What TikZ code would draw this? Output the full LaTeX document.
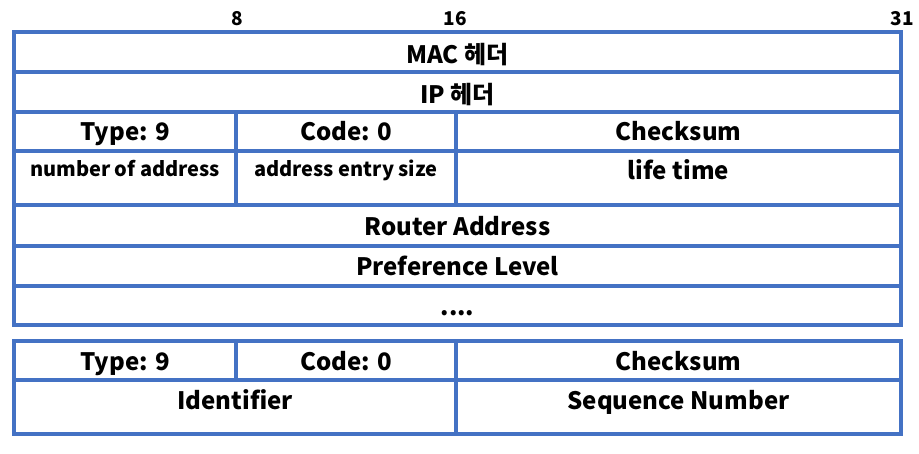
\documentclass[tikz,border=0pt]{standalone}
\usepackage{fontspec}
\setmainfont{Noto Sans CJK KR}
\usepackage{tikz}

\definecolor{cellblue}{HTML}{4472C4}

\tikzset{
	field/.style={anchor=base, text=black, font=\bfseries\fontsize{24}{28}\selectfont},
	smallfield/.style={anchor=base, text=black, font=\bfseries\fontsize{20}{23}\selectfont},
	bitnum/.style={anchor=base, text=black, font=\bfseries\fontsize{19}{22}\selectfont},
	cellline/.style={cellblue, line width=3.5pt}
}

\begin{document}
\begin{tikzpicture}[x=1pt, y=-1pt]
			\useasboundingbox (0,0) rectangle (919,453);
			% bit numbers
			\node [bitnum] (bit8) at (237,25) {8};
			\node [bitnum] (bit16) at (455,25) {16};
			\node [bitnum] (bit31) at (902,25) {31};

			% first packet
			\draw [cellline] (14,32) rectangle (901,325);
			\draw [cellline] (14,72) -- (901,72);
			\draw [cellline] (14,112) -- (901,112);
			\draw [cellline] (14,151) -- (901,151);
			\draw [cellline] (14,205) -- (901,205);
			\draw [cellline] (14,246) -- (901,246);
			\draw [cellline] (14,286) -- (901,286);
			\draw [cellline] (236,112) -- (236,205);
			\draw [cellline] (456,112) -- (456,205);
			\node [field] (mac) at (457.5,63) {MAC 헤더};
			\node [field] (ip) at (457.5,103) {IP 헤더};
			\node [field] (type) at (125,140) {Type: 9};
			\node [field] (code) at (346,140) {Code: 0};
			\node [field] (csum) at (678.5,140) {Checksum};
			\node [smallfield] (naddr) at (125,176) {number of address};
			\node [smallfield] (esize) at (346,176) {address entry size};
			\node [field] (life) at (678.5,179) {life time};
			\node [field] (router) at (457.5,235) {Router Address};
			\node [field] (pref) at (457.5,275) {Preference Level};
			\node [field] (more) at (457.5,315) {....};

			% second packet
			\draw [cellline] (14,341) rectangle (901,434);
			\draw [cellline] (14,380) -- (901,380);
			\draw [cellline] (236,341) -- (236,380);
			\draw [cellline] (456,341) -- (456,434);
			\node [field] (typeb) at (125,370) {Type: 9};
			\node [field] (codeb) at (346,370) {Code: 0};
			\node [field] (csumb) at (678.5,370) {Checksum};
			\node [field] (ident) at (235,409) {Identifier};
			\node [field] (seq) at (678.5,409) {Sequence Number};
\end{tikzpicture}
\end{document}
